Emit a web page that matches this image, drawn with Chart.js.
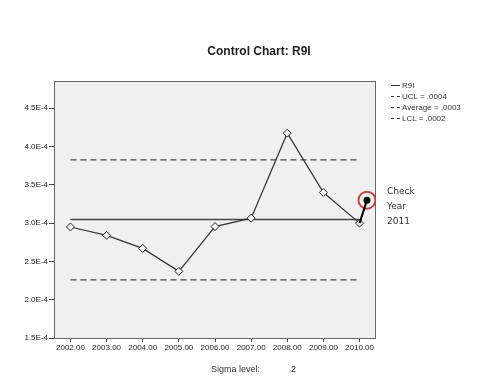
<!DOCTYPE html>
<html>
<head>
<meta charset="utf-8">
<script src="https://cdn.jsdelivr.net/npm/chart.js@4/dist/chart.umd.min.js"></script>
<style>
  body { margin: 0; background: #fff; }
  #wrap { position: relative; width: 484px; height: 387px; font-family: "Liberation Sans", Arial, sans-serif; color: #222; }
  #titulo { position: absolute; left: 159px; width: 200px; top: 44px; text-align: center; font-size: 12px; font-weight: bold; }
  #legenda { position: absolute; left: 391px; top: 80px; font-size: 8px; line-height: 11px; color: #333; }
  #legenda div { white-space: nowrap; }
  #legenda span.amostra { display: inline-block; width: 9px; margin-right: 2px; vertical-align: middle; border-top: 1px solid #333; }
  #legenda span.tracejado { border-top: 1px dashed #333; }
  #check { position: absolute; left: 387px; top: 184px; font-family: "DejaVu Sans", sans-serif; font-size: 9px; line-height: 15px; color: #333; }
  #sigma { position: absolute; left: 211px; top: 364px; font-size: 9px; color: #333; }
  #sigma span { margin-left: 31px; }
</style>
</head>
<body>
<div id="wrap">
  <canvas id="grafico" width="484" height="387"></canvas>
  <div id="titulo">Control Chart: R9I</div>
  <div id="legenda">
    <div><span class="amostra"></span>R9I</div>
    <div><span class="amostra tracejado"></span>UCL = .0004</div>
    <div><span class="amostra tracejado"></span>Average = .0003</div>
    <div><span class="amostra tracejado"></span>LCL = .0002</div>
  </div>
  <div id="check">Check<br>Year<br>2011</div>
  <div id="sigma">Sigma level:<span>2</span></div>
</div>
<script>
const anos = [2002, 2003, 2004, 2005, 2006, 2007, 2008, 2009, 2010];
const valoresR9I = [2.95e-4, 2.84e-4, 2.67e-4, 2.37e-4, 2.955e-4, 3.065e-4, 4.175e-4, 3.40e-4, 3.00e-4];
const ucl = 3.826e-4;
const media = 3.047e-4;
const lcl = 2.26e-4;
const anoCheck = 2010.205;
const valorCheck = 3.30e-4;
const ticksY = [1.5e-4, 2.0e-4, 2.5e-4, 3.0e-4, 3.5e-4, 4.0e-4, 4.5e-4];

function linhaConstante(valor) {
  return [{ x: anos[0], y: valor }, { x: anos[anos.length - 1], y: valor }];
}

const fundoPlot = {
  id: 'fundoPlot',
  beforeDraw(chart) {
    const a = chart.chartArea;
    const ctx = chart.ctx;
    ctx.save();
    ctx.fillStyle = '#f0f0f0';
    ctx.fillRect(a.left, a.top, a.right - a.left, a.bottom - a.top);
    ctx.restore();
  },
  afterDraw(chart) {
    const a = chart.chartArea;
    const ctx = chart.ctx;
    ctx.save();
    ctx.strokeStyle = '#666';
    ctx.lineWidth = 1;
    ctx.strokeRect(a.left + 0.5, a.top + 0.5, a.right - a.left - 1, a.bottom - a.top);
    ctx.restore();
  }
};

new Chart(document.getElementById('grafico'), {
  type: 'line',
  data: {
    datasets: [
      {
        label: 'R9I',
        data: anos.map((a, i) => ({ x: a, y: valoresR9I[i] })),
        borderColor: '#333',
        borderWidth: 1.2,
        pointStyle: 'rectRot',
        pointRadius: 4,
        pointBorderColor: '#222',
        pointBorderWidth: 1,
        pointBackgroundColor: '#f4f4f4',
        order: 1
      },
      {
        label: 'UCL',
        data: linhaConstante(ucl),
        borderColor: '#444',
        borderWidth: 1.2,
        borderDash: [6, 4],
        pointRadius: 0,
        order: 3
      },
      {
        label: 'Average',
        data: linhaConstante(media),
        borderColor: '#444',
        borderWidth: 1.5,
        pointRadius: 0,
        order: 3
      },
      {
        label: 'LCL',
        data: linhaConstante(lcl),
        borderColor: '#444',
        borderWidth: 1.2,
        borderDash: [6, 4],
        pointRadius: 0,
        order: 3
      },
      {
        label: 'Check',
        data: [{ x: anos[anos.length - 1], y: valoresR9I[valoresR9I.length - 1] }, { x: anoCheck, y: valorCheck }],
        borderColor: '#000',
        borderWidth: 2,
        pointRadius: [0, 2.5],
        pointBackgroundColor: '#000',
        pointBorderColor: '#000',
        order: 0
      },
      {
        label: 'Circulo',
        data: [{ x: anoCheck, y: valorCheck }],
        showLine: false,
        pointStyle: 'circle',
        pointRadius: 8.5,
        pointBorderWidth: 2,
        pointBorderColor: '#c8433a',
        pointBackgroundColor: 'rgba(0,0,0,0)',
        order: 0
      }
    ]
  },
  options: {
    responsive: false,
    animation: false,
    layout: { padding: { top: 81, right: 108, left: 0, bottom: 0 } },
    plugins: {
      legend: { display: false },
      title: { display: false },
      tooltip: { enabled: false }
    },
    scales: {
      x: {
        type: 'linear',
        min: 2001.545,
        max: 2010.455,
        afterBuildTicks(scale) { scale.ticks = anos.map(v => ({ value: v })); },
        afterFit(scale) { scale.height = 49; },
        grid: { drawOnChartArea: false, drawTicks: true, tickLength: 4, color: '#444' },
        border: { display: false },
        ticks: {
          padding: 1,
          maxRotation: 0,
          autoSkip: false,
          color: '#222',
          font: { family: 'Liberation Sans', size: 8 },
          callback: v => v.toFixed(2)
        }
      },
      y: {
        type: 'linear',
        min: 1.5e-4,
        max: 4.856e-4,
        afterBuildTicks(scale) { scale.ticks = ticksY.map(v => ({ value: v })); },
        afterFit(scale) { scale.width = 54; },
        grid: { drawOnChartArea: false, drawTicks: true, tickLength: 5, color: '#444' },
        border: { display: false },
        ticks: {
          padding: 1,
          autoSkip: false,
          color: '#222',
          font: { family: 'Liberation Sans', size: 8 },
          callback: v => (v * 1e4).toFixed(1) + 'E-4'
        }
      }
    }
  },
  plugins: [fundoPlot]
});
</script>
</body>
</html>
